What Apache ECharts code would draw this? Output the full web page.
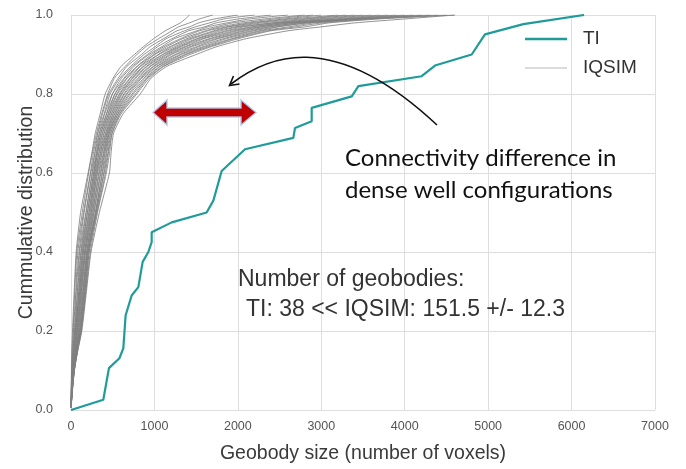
<!DOCTYPE html>
<html>
<head>
<meta charset="utf-8">
<script src="https://cdn.jsdelivr.net/npm/echarts@6/dist/echarts.min.js"></script>
<style>html,body{margin:0;padding:0;background:#fff;}#c{width:686px;height:469px;}</style>
</head>
<body>
<div id="c"></div>
<script>
// ---- Data ----
const xTicks = [0, 1000, 2000, 3000, 4000, 5000, 6000, 7000];
const yTicks = [0.0, 0.2, 0.4, 0.6, 0.8, 1.0];

// TI cumulative distribution: [geobody size, cumulative fraction]
const tiCurve = [
  [0,0],[387,0.026],[455,0.106],[580,0.131],[627,0.156],[655,0.24],[727,0.29],[807,0.311],
  [859,0.375],[927,0.40],[967,0.425],[967,0.45],[1207,0.475],[1626,0.50],[1706,0.53],
  [1806,0.605],[2086,0.66],[2665,0.689],[2685,0.714],[2885,0.731],[2885,0.765],
  [3365,0.794],[3445,0.82],[4203,0.845],[4363,0.872],[4803,0.90],[4962,0.951],
  [5422,0.977],[6150,1.0]
];

// IQSIM realisations: cumulative levels shared by all curves, size (x) per curve
const iqLevels = [0.007,0.05,0.1,0.15,0.2,0.3,0.4,0.5,0.6,0.65,0.7,0.75,0.8,0.84,0.87,0.9,0.92,0.94,0.96,0.97,0.98,0.99,1.0];
const iq01 = [0,2,5,10,18,38,62,115,205,250,290,350,410,505,600,760,870,990,1130,1220,1310,1370,1420];
const iq02 = [1,3,9,14,26,44,70,135,212,255,305,368,440,520,650,790,900,1050,1210,1290,1420,1540,1700];
const iq03 = [0,4,10,21,30,58,82,150,232,268,318,378,452,565,670,845,950,1110,1270,1420,1530,1720,2000];
const iq04 = [2,5,12,24,42,63,97,158,238,285,322,398,468,585,715,875,1010,1140,1360,1490,1660,1830,2200];
const iq05 = [0,6,14,29,44,77,104,178,252,288,338,405,495,605,735,915,1040,1210,1410,1600,1740,2010,2400];
const iq06 = [1,7,19,31,52,79,118,183,258,303,342,425,498,635,755,935,1090,1240,1510,1640,1870,2140,2600];
const iq07 = [0,8,20,37,54,92,122,198,272,307,358,428,525,645,790,965,1115,1310,1540,1730,1940,2320,2800];
const iq08 = [3,9,23,39,61,94,133,197,273,318,357,445,528,668,795,995,1145,1340,1610,1790,2060,2440,2900];
const iq09 = [1,5,16,31,50,102,138,212,282,318,373,448,548,676,825,1005,1185,1390,1640,1860,2140,2560,3000];
const iq10 = [0,10,25,43,67,104,147,218,288,333,378,463,557,705,835,1045,1205,1425,1710,1890,2210,2640,3200];
const iq11 = [2,11,26,49,69,112,149,227,297,338,392,468,578,712,865,1055,1245,1455,1745,1960,2290,2760,3300];
const iq12 = [0,12,27,51,76,114,162,233,303,352,398,483,588,733,875,1095,1275,1505,1795,2010,2410,2840,3400];
const iq13 = [1,8,31,54,79,122,163,242,312,353,412,488,603,742,905,1105,1305,1525,1855,2070,2440,2960,3500];
const iq14 = [3,13,32,59,86,124,172,248,318,367,418,503,612,763,915,1135,1325,1565,1895,2160,2510,3040,3600];
const iq15 = [0,14,33,58,91,131,174,257,332,373,427,508,633,778,945,1155,1365,1595,1955,2190,2540,3160,3700];
const iq16 = [1,9,34,63,94,139,187,263,338,387,433,522,642,803,955,1185,1385,1655,1995,2260,2610,3240,3800];
const iq17 = [2,15,35,64,101,146,188,272,352,393,442,528,663,818,985,1205,1425,1685,2055,2290,2640,3310,3900];
const iq18 = [0,11,36,69,104,148,197,278,358,402,448,542,672,838,995,1245,1455,1735,2095,2360,2710,3340,4000];
const iq19 = [1,16,37,70,111,156,199,292,372,408,457,548,693,848,1025,1265,1505,1765,2155,2390,2740,3410,4100];
const iq20 = [3,12,38,71,113,158,206,293,378,422,458,562,708,872,1035,1305,1535,1825,2195,2460,2810,3440,4200];
const iq21 = [0,17,39,75,114,166,208,302,392,428,472,568,732,888,1065,1325,1585,1865,2255,2490,2840,3510,4300];
const iq22 = [1,13,40,76,119,168,217,303,398,442,478,582,748,908,1075,1365,1615,1925,2295,2610,2910,3540,4400];
const iq23 = [2,18,40,77,121,176,218,312,412,448,492,588,772,918,1105,1385,1655,1955,2355,2690,3010,3610,4500];
const iq24 = [0,14,38,81,124,178,232,318,423,462,493,602,788,938,1115,1425,1685,2005,2395,2810,3090,3690,4600];
const iq25 = [1,15,40,80,130,185,240,340,460,480,510,625,830,960,1150,1500,1750,2100,2600,3000,3400,4000,4600];
const iqCurves = [iq01, iq02, iq03, iq04, iq05, iq06, iq07, iq08, iq09, iq10, iq11, iq12, iq13,
                  iq14, iq15, iq16, iq17, iq18, iq19, iq20, iq21, iq22, iq23, iq24, iq25];

// ---- Chart ----
const chart = echarts.init(document.getElementById('c'), null, {renderer: 'canvas'});
const FONT = '"Liberation Sans", Arial, sans-serif';
const TEAL = '#1f9c99';

const series = iqCurves.map(xs => ({
  name: 'IQSIM', type: 'line', showSymbol: false, symbol: 'none', silent: true,
  smooth: 0.2,
  data: xs.map((x, i) => [x, iqLevels[i]]),
  lineStyle: {color: 'rgba(128,128,128,0.85)', width: 1},
  z: 2
}));
series.push({
  name: 'TI', type: 'line', showSymbol: false, symbol: 'none',
  data: tiCurve,
  lineStyle: {color: TEAL, width: 2.2},
  z: 3
});

const option = {
  animation: false,
  backgroundColor: '#fff',
  grid: {left: 71, right: 31, top: 15, bottom: 57, containLabel: false},
  xAxis: {
    type: 'value', min: xTicks[0], max: xTicks[xTicks.length - 1], interval: 1000,
    name: 'Geobody size (number of voxels)', nameLocation: 'middle', nameGap: 34,
    nameMoveOverlap: false,
    nameTextStyle: {fontFamily: FONT, fontSize: 19.5, color: '#3a3a3a'},
    axisLine: {show: false}, axisTick: {show: false},
    axisLabel: {fontFamily: FONT, fontSize: 12.5, color: '#555', margin: 10,
                formatter: v => String(v)},
    splitLine: {show: true, lineStyle: {color: '#dedede', width: 1}}
  },
  yAxis: {
    type: 'value', min: yTicks[0], max: yTicks[yTicks.length - 1], interval: 0.2,
    name: 'Cummulative distribution', nameLocation: 'middle', nameGap: 34,
    nameMoveOverlap: false,
    nameTextStyle: {fontFamily: FONT, fontSize: 19.5, color: '#3a3a3a'},
    axisLine: {show: false}, axisTick: {show: false},
    axisLabel: {fontFamily: FONT, fontSize: 12.5, color: '#555', margin: 18,
                formatter: v => v.toFixed(1)},
    splitLine: {show: true, lineStyle: {color: '#dedede', width: 1}}
  },
  series: series,
  graphic: [
    // legend
    {type: 'line', shape: {x1: 525, y1: 39, x2: 567, y2: 39}, style: {stroke: TEAL, lineWidth: 2.5}, z: 10},
    {type: 'text', x: 583, y: 39, style: {text: 'TI', font: '19px ' + FONT, fill: '#333', textVerticalAlign: 'middle'}, z: 10},
    {type: 'line', shape: {x1: 525, y1: 68, x2: 567, y2: 68}, style: {stroke: '#b8b8b8', lineWidth: 1}, z: 10},
    {type: 'text', x: 583, y: 68, style: {text: 'IQSIM', font: '19px ' + FONT, fill: '#333', textVerticalAlign: 'middle'}, z: 10},
    // curved black arrow
    {type: 'bezierCurve', shape: {x1: 437, y1: 125, cpx1: 330, cpy1: 25, cpx2: 265, cpy2: 58, x2: 231, y2: 84},
     style: {stroke: '#111', lineWidth: 1.6, fill: null}, z: 10},
    {type: 'polyline', shape: {points: [[233.5, 76], [229.5, 85.5], [239.5, 84]]},
     style: {stroke: '#111', lineWidth: 1.6, fill: null}, z: 10},
    // red double arrow
    {type: 'polygon', shape: {points: [[153, 112.5], [167, 100], [167, 108], [241, 108], [241, 100],
                                        [256, 112.5], [241, 125], [241, 117], [167, 117], [167, 125]]},
     style: {fill: '#c00000', stroke: 'rgba(170,205,240,0.9)', lineWidth: 1.5}, z: 10},
    // annotations
    {type: 'text', x: 345, y: 158, style: {text: 'Connectivity difference in', font: '24px Lato, "Open Sans", sans-serif', fill: '#111', textVerticalAlign: 'middle'}, z: 10},
    {type: 'text', x: 345, y: 190, style: {text: 'dense well configurations', font: '24px Lato, "Open Sans", sans-serif', fill: '#111', textVerticalAlign: 'middle'}, z: 10},
    {type: 'text', x: 238, y: 280, style: {text: 'Number of geobodies:', font: '23px ' + FONT, fill: '#333', textVerticalAlign: 'middle'}, z: 10},
    {type: 'text', x: 246, y: 310, style: {text: 'TI: 38 << IQSIM: 151.5 +/- 12.3', font: '23px ' + FONT, fill: '#333', textVerticalAlign: 'middle'}, z: 10}
  ]
};
chart.setOption(option);
</script>
</body>
</html>
